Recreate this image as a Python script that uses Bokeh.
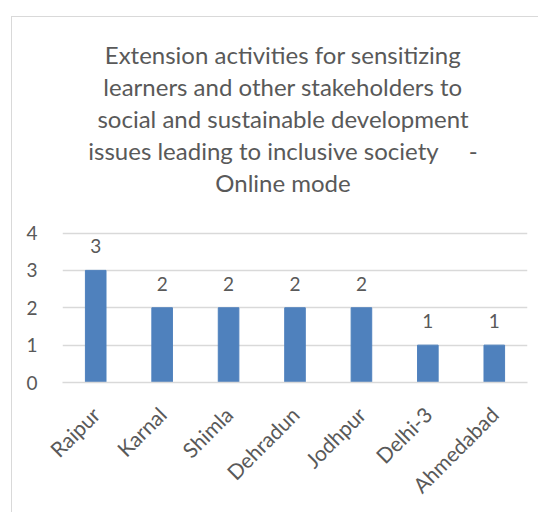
import math
from bokeh.plotting import figure
from bokeh.models import ColumnDataSource, LabelSet, FixedTicker, Title
from bokeh.core.properties import value
from bokeh.embed import file_html
from bokeh.resources import INLINE

categories = ["Raipur", "Karnal", "Shimla", "Dehradun", "Jodhpur", "Delhi-3", "Ahmedabad"]
values = [3, 2, 2, 2, 2, 1, 1]
y_ticks = [0, 1, 2, 3, 4]
title_lines = ["Extension activities for sensitizing",
               "learners and other stakeholders to",
               "social and sustainable development",
               "issues leading to inclusive society\u00a0\u00a0\u00a0\u00a0\u00a0-",
               "Online mode"]

FONT = "Lato"
GREY = "#595959"
GRID = "#d9d9d9"

src = ColumnDataSource(dict(cat=categories, val=values, lab=[str(v) for v in values]))

# the y range runs a little past the top gridline (4) to leave room under the title
p = figure(x_range=categories, y_range=(0, 4.95), width=527, height=496,
           output_backend="svg", toolbar_location=None, title_location=None,
           min_border_left=50, min_border_right=12, min_border_top=180,
           min_border_bottom=131, outline_line_color=None,
           background_fill_color="white", border_fill_color="white")
p.styles = {"border-left": f"1.5px solid {GRID}", "border-top": f"1.5px solid {GRID}",
            "margin-left": "11px", "margin-top": "16px"}

# title lines stacked upwards from the plot frame (last line added first)
for line in reversed(title_lines):
    p.add_layout(Title(text=line, align="center", text_font=FONT, text_font_size="24px",
                       text_font_style="normal", text_color=GREY,
                       padding=dict(left=0, right=24, top=0, bottom=0),
                       standoff=1), "above")

p.vbar(x="cat", top="val", width=0.31, source=src, color="#4f81bd")

labels = LabelSet(x="cat", y="val", text="lab", source=src, text_align="center",
                  text_baseline="alphabetic", y_offset=17, text_font=value(FONT),
                  text_font_size=value("19px"), text_color=GREY)
p.add_layout(labels)

p.xgrid.grid_line_color = None
p.ygrid.grid_line_color = GRID
p.ygrid.grid_line_width = 1.5
p.yaxis.ticker = FixedTicker(ticks=y_ticks)

for ax in (p.xaxis[0], p.yaxis[0]):
    ax.major_tick_line_color = None
    ax.minor_tick_line_color = None
    ax.major_label_text_font = FONT
    ax.major_label_text_color = GREY
p.yaxis.major_label_text_font_size = "19px"
p.xaxis.major_label_text_font_size = "21px"
p.yaxis.axis_line_color = None
p.yaxis.major_label_standoff = 19
p.xaxis.axis_line_color = GRID
p.xaxis.axis_line_width = 1.5
p.xaxis.major_label_orientation = math.pi / 4
p.xaxis.major_label_standoff = 22

open("out.html", "w").write(file_html(p, INLINE))
